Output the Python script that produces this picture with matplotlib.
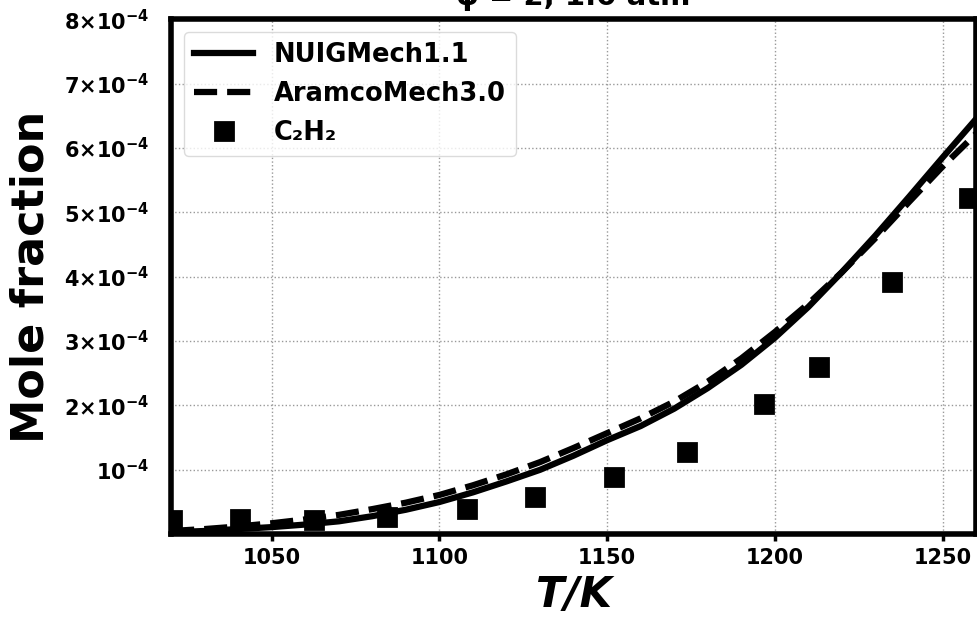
import numpy as np
import matplotlib
matplotlib.use('Agg')
import matplotlib.pyplot as plt
from matplotlib.ticker import FixedLocator, FuncFormatter

plt.rcParams['font.family'] = ['DejaVu Sans']
plt.rcParams['font.weight'] = 'bold'
plt.rcParams['mathtext.default'] = 'bf'

# Simulaciones (fraccion molar x 1e-4)
T_sim = [1020, 1030, 1040, 1050, 1060, 1070, 1080, 1090, 1100, 1110, 1120, 1130, 1140,
         1150, 1160, 1170, 1180, 1190, 1200, 1210, 1220, 1230, 1240, 1250, 1260]
nuig = [0.03, 0.05, 0.08, 0.11, 0.15, 0.20, 0.28, 0.38, 0.50, 0.65, 0.82, 1.00, 1.22,
        1.46, 1.68, 1.95, 2.27, 2.63, 3.05, 3.53, 4.07, 4.64, 5.24, 5.85, 6.45]
aramco = [0.05, 0.08, 0.12, 0.17, 0.23, 0.30, 0.39, 0.49, 0.61, 0.76, 0.93, 1.12, 1.34,
          1.57, 1.80, 2.06, 2.37, 2.73, 3.14, 3.58, 4.07, 4.60, 5.16, 5.71, 6.22]

# Experimental C2H2
T_exp = [1020.4, 1040.5, 1062.7, 1084.3, 1108.3, 1128.4, 1152.0, 1173.7, 1196.7, 1213.3, 1235.0, 1258.0]
c2h2 = [0.22, 0.23, 0.22, 0.26, 0.39, 0.58, 0.89, 1.28, 2.02, 2.60, 3.92, 5.22]

yticks = [1, 2, 3, 4, 5, 6, 7, 8]
xticks = [1050, 1100, 1150, 1200, 1250]

fig = plt.figure(figsize=(9.78, 6.19), dpi=100)
ax = fig.add_axes([0.175, 0.137, 0.823, 0.832])

ax.plot(T_sim, np.array(nuig) * 1e-4, '-', color='black', lw=4.5, label='NUIGMech1.1')
ax.plot(T_sim, np.array(aramco) * 1e-4, '--', color='black', lw=4.5, label='AramcoMech3.0')
ax.plot(T_exp, np.array(c2h2) * 1e-4, 's', color='black', markersize=13, mew=2,
        linestyle='none', label='C₂H₂')

ax.set_xlim(1020, 1260)
ax.set_ylim(0, 8e-4)
ax.xaxis.set_major_locator(FixedLocator(xticks))
ax.yaxis.set_major_locator(FixedLocator([v * 1e-4 for v in yticks]))

def fmt(v, pos):
    k = int(round(v / 1e-4))
    if k == 1:
        return r'$10^{-4}$'
    return r'$%d{\times}10^{-4}$' % k

ax.yaxis.set_major_formatter(FuncFormatter(fmt))
ax.tick_params(axis='x', labelsize=15, length=5, width=2.5, pad=5)
ax.tick_params(axis='y', labelsize=15, length=0, pad=16)
for lab in ax.get_xticklabels():
    lab.set_fontweight('bold')

for s in ax.spines.values():
    s.set_linewidth(4)

ax.grid(True, linestyle=':', color='#999999', linewidth=1)

ax.set_xlabel('T/K', fontsize=30, fontweight='bold', style='italic', labelpad=4)
ax.set_ylabel('Mole fraction', fontsize=32, fontweight='bold', labelpad=8)
ax.set_title('φ = 2, 1.0 atm', fontsize=21, fontweight='bold', pad=10)

leg = ax.legend(loc='upper left', prop={'weight': 'bold', 'size': 18.5}, handlelength=2.3,
                edgecolor='lightgray')

fig.savefig('out.png', dpi=100)
